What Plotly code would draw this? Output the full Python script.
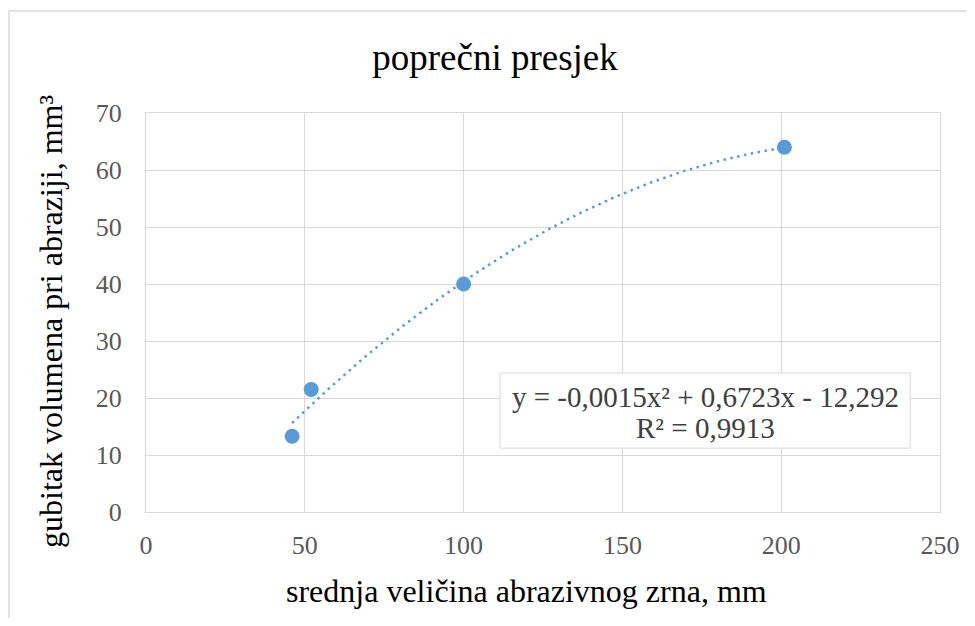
import numpy as np
import plotly.graph_objects as go

# data
grain_size = [46, 52, 100, 201]
volume_loss = [13.3, 21.5, 40.0, 64.0]
x_ticks = [0, 50, 100, 150, 200, 250]
y_ticks = [0, 10, 20, 30, 40, 50, 60, 70]
title_text = "popre\u010dni presjek"
x_title = "srednja veli\u010dina abrazivnog zrna, mm"
y_title = "gubitak volumena pri abraziji, mm\u00b3"
eq_line1 = "y = -0,0015x\u00b2 + 0,6723x - 12,292"
eq_line2 = "R\u00b2 = 0,9913"

# polynomial trendline (order 2) fitted to the data, as Excel does
coef = np.polyfit(grain_size, volume_loss, 2)
tx = np.linspace(min(grain_size), max(grain_size), 200)
ty = np.polyval(coef, tx)

blue = "#5B9BD5"
grid = "#D9D9D9"
font = "Liberation Serif"

fig = go.Figure()
fig.add_trace(go.Scatter(x=tx, y=ty, mode="lines",
                         line=dict(color=blue, width=2.5, dash="2.5px,4.5px"),
                         hoverinfo="skip", showlegend=False))
fig.add_trace(go.Scatter(x=grain_size, y=volume_loss, mode="markers",
                         marker=dict(color=blue, size=15),
                         showlegend=False))

# page body has an 8px margin, so the figure is 16px smaller than the window
W, H = 959, 610
L, T, PW, PH = 138, 105, 794, 399
R, B = W - L - PW, H - T - PH

def px_x(p):  # figure pixel -> paper x
    return (p - L) / PW

def px_y(p):  # figure pixel -> paper y
    return 1 - (p - T) / PH

fig.update_layout(
    width=W, height=H, autosize=False,
    margin=dict(l=L, r=R, t=T, b=B, autoexpand=False),
    paper_bgcolor="white", plot_bgcolor="white",
    font=dict(family=font, color="#595959", size=26),
    title=dict(text=title_text, xref="container", x=487 / W, xanchor="center",
               yref="container", y=1 - 49 / H, yanchor="middle",
               font=dict(family=font, size=37, color="#000000")),
    xaxis=dict(range=[0, 250], tickvals=x_ticks, ticks="", showgrid=True,
               gridcolor=grid, gridwidth=1, showline=True, linecolor=grid,
               linewidth=1, mirror=True, zeroline=False,
               ticklabelstandoff=10,
               tickfont=dict(size=26, color="#595959")),
    yaxis=dict(range=[0, 70], tickvals=y_ticks, ticks="", showgrid=True,
               gridcolor=grid, gridwidth=1, showline=True, linecolor=grid,
               linewidth=1, mirror=True, zeroline=False,
               ticklabelstandoff=18,
               tickfont=dict(size=26, color="#595959")),
    shapes=[
        dict(type="rect", xref="x", yref="y", x0=111.5, x1=240.6,
             y0=11.2, y1=24.4, fillcolor="white",
             line=dict(color=grid, width=1), layer="above"),
        dict(type="rect", xref="paper", yref="paper",
             x0=px_x(1), x1=px_x(990), y0=px_y(660), y1=px_y(3),
             line=dict(color=grid, width=1.5), fillcolor="rgba(0,0,0,0)"),
    ],
    annotations=[
        dict(text=x_title, xref="paper", yref="paper", x=px_x(518.5),
             y=px_y(583), xanchor="center", yanchor="middle", showarrow=False,
             font=dict(family=font, size=32, color="#000000")),
        dict(text=y_title, xref="paper", yref="paper", x=px_x(43),
             y=px_y(314), xanchor="center", yanchor="middle", showarrow=False,
             textangle=-90,
             font=dict(family=font, size=32, color="#000000")),
        dict(text=eq_line1, xref="x", yref="y", x=176.2, y=20.2,
             showarrow=False, xanchor="center", yanchor="middle",
             font=dict(family=font, size=29, color="#404040")),
        dict(text=eq_line2, xref="x", yref="y", x=176.2, y=14.8,
             showarrow=False, xanchor="center", yanchor="middle",
             font=dict(family=font, size=29, color="#404040")),
    ],
)

fig.write_html("out.html")
